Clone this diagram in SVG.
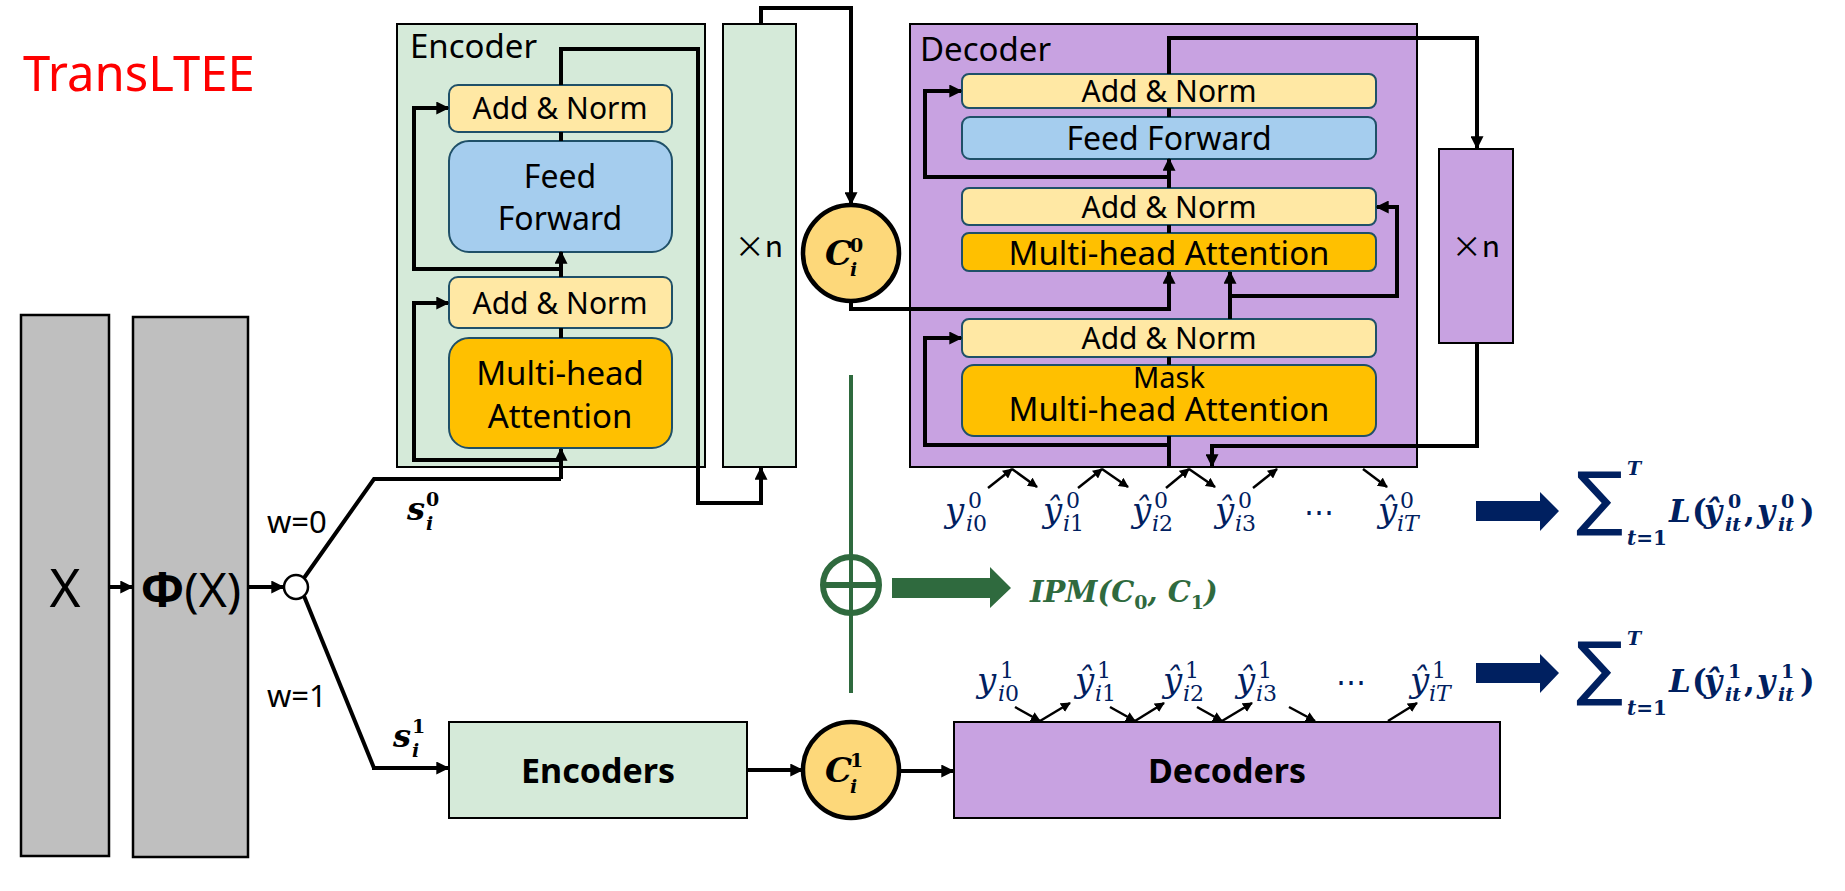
<svg xmlns="http://www.w3.org/2000/svg" width="1845" height="891" viewBox="0 0 1845 891">
<defs>
<style>
.lbl{font-family:"Noto Sans","Liberation Sans",sans-serif;fill:#000}
.an{fill:#ffe8a4;stroke:#1f5068;stroke-width:2}
.ff{fill:#a5cdee;stroke:#1f5068;stroke-width:2}
.mha{fill:#ffc000;stroke:#1f5068;stroke-width:2}
.enc{fill:#d5ead9;stroke:#000;stroke-width:2}
.dec{fill:#c8a2e1;stroke:#000;stroke-width:2}
.gray{fill:#bfbfbf;stroke:#000;stroke-width:2.5}
.cc{fill:#fdd87a;stroke:#000;stroke-width:4.5}
.ln{fill:none;stroke:#000;stroke-width:4}
.lna{fill:none;stroke:#000;stroke-width:4;marker-end:url(#ah)}
.sm{fill:none;stroke:#000;stroke-width:2.5;marker-end:url(#sa)}
.mth{font-family:"DejaVu Serif","Liberation Serif",serif;font-style:italic;fill:#002060}
.mb{font-family:"DejaVu Serif","Liberation Serif",serif;font-style:italic;font-weight:bold}
.up{font-style:normal}
.xn{font-family:"Noto Sans CJK SC","Noto Sans",sans-serif;font-size:30px;fill:#000}
</style>
<marker id="ah" viewBox="0 0 10 10" refX="9" refY="5" markerWidth="13" markerHeight="13" markerUnits="userSpaceOnUse" orient="auto"><path d="M0,0 L10,5 L0,10 z" fill="#000"/></marker>
<marker id="sa" viewBox="0 0 10 10" refX="9" refY="5" markerWidth="10" markerHeight="10" markerUnits="userSpaceOnUse" orient="auto"><path d="M0,0 L10,5 L0,10 z" fill="#000"/></marker>
</defs>
<rect width="1845" height="891" fill="#fff"/>

<text id="title" x="23" y="91" font-family="Noto Sans, Liberation Sans, sans-serif" font-size="49" fill="#ff0000">TransLTEE</text>

<g id="X">
<rect class="gray" x="21" y="315" width="88" height="541"/>
<text class="lbl" x="65" y="607" font-size="53" text-anchor="middle">X</text>
</g>
<g id="PhiX">
<rect class="gray" x="133" y="317" width="115" height="540"/>
<text class="lbl" x="191" y="607" font-size="48" text-anchor="middle"><tspan font-weight="bold">Φ</tspan>(X)</text>
</g>
<g id="split">
<circle cx="296" cy="587" r="12" fill="#fff" stroke="#000" stroke-width="2.5"/>
</g>

<g id="encoder">
<rect class="enc" x="397" y="24" width="308" height="443"/>
<text class="lbl" x="410" y="58" font-size="33">Encoder</text>
<g id="enc-an2">
<rect class="an" x="449" y="85" width="223" height="47" rx="9"/>
<text class="lbl" x="560" y="119" font-size="30" text-anchor="middle">Add &amp; Norm</text>
</g>
<g id="enc-ff">
<rect class="ff" x="449" y="141" width="223" height="111" rx="20"/>
<text class="lbl" x="560" y="188" font-size="32" text-anchor="middle">Feed</text>
<text class="lbl" x="560" y="230" font-size="32" text-anchor="middle">Forward</text>
</g>
<g id="enc-an1">
<rect class="an" x="449" y="277" width="223" height="51" rx="9"/>
<text class="lbl" x="560" y="314" font-size="30" text-anchor="middle">Add &amp; Norm</text>
</g>
<g id="enc-mha">
<rect class="mha" x="449" y="338" width="223" height="110" rx="20"/>
<text class="lbl" x="560" y="385" font-size="33" text-anchor="middle">Multi-head</text>
<text class="lbl" x="560" y="428" font-size="33" text-anchor="middle">Attention</text>
</g>
</g>

<g id="enc-xn">
<rect class="enc" x="723" y="24" width="73" height="443"/>
<text class="xn" x="759" y="257" text-anchor="middle">×n</text>
</g>

<g id="c0">
<circle class="cc" cx="851" cy="253" r="48"/>
<text class="mb" x="825" y="265" font-size="34">C</text>
<text class="mb up" x="850" y="252" font-size="19">0</text>
<text class="mb" x="850" y="276" font-size="19">i</text>
</g>

<g id="decoder">
<rect class="dec" x="910" y="24" width="507" height="443"/>
<text class="lbl" x="920" y="61" font-size="33">Decoder</text>
<g id="dec-an3">
<rect class="an" x="962" y="74" width="414" height="34" rx="7"/>
<text class="lbl" x="1169" y="102" font-size="30" text-anchor="middle">Add &amp; Norm</text>
</g>
<g id="dec-ff">
<rect class="ff" x="962" y="117" width="414" height="42" rx="8"/>
<text class="lbl" x="1169" y="150" font-size="32" text-anchor="middle">Feed Forward</text>
</g>
<g id="dec-an2">
<rect class="an" x="962" y="188" width="414" height="37" rx="7"/>
<text class="lbl" x="1169" y="218" font-size="30" text-anchor="middle">Add &amp; Norm</text>
</g>
<g id="dec-mha">
<rect class="mha" x="962" y="233" width="414" height="38" rx="7"/>
<text class="lbl" x="1169" y="265" font-size="33" text-anchor="middle">Multi-head Attention</text>
</g>
<g id="dec-an1">
<rect class="an" x="962" y="319" width="414" height="38" rx="7"/>
<text class="lbl" x="1169" y="349" font-size="30" text-anchor="middle">Add &amp; Norm</text>
</g>
<g id="dec-mmha">
<rect class="mha" x="962" y="365" width="414" height="71" rx="12"/>
<text class="lbl" x="1169" y="388" font-size="29" text-anchor="middle">Mask</text>
<text class="lbl" x="1169" y="421" font-size="33" text-anchor="middle">Multi-head Attention</text>
</g>
</g>

<g id="dec-xn">
<rect class="dec" x="1439" y="149" width="74" height="194"/>
<text class="xn" x="1476" y="257" text-anchor="middle">×n</text>
</g>

<g id="encoders">
<rect class="enc" x="449" y="722" width="298" height="96" stroke-width="2.5"/>
<text class="lbl" x="598" y="783" font-size="34" font-weight="bold" text-anchor="middle">Encoders</text>
</g>
<g id="c1">
<circle class="cc" cx="851" cy="770" r="48"/>
<text class="mb" x="825" y="782" font-size="34">C</text>
<text class="mb up" x="850" y="767" font-size="19">1</text>
<text class="mb" x="850" y="793" font-size="19">i</text>
</g>
<g id="decoders">
<rect class="dec" x="954" y="722" width="546" height="96" stroke-width="2.5"/>
<text class="lbl" x="1227" y="783" font-size="34" font-weight="bold" text-anchor="middle">Decoders</text>
</g>

<g id="labels">
<text class="lbl" x="267" y="533" font-size="31">w=0</text>
<text class="lbl" x="267" y="707" font-size="31">w=1</text>
<text class="mb" x="407" y="520" font-size="32">s</text>
<text class="mb up" x="426" y="506" font-size="19">0</text>
<text class="mb" x="426" y="530" font-size="19">i</text>
<text class="mb" x="393" y="747" font-size="32">s</text>
<text class="mb up" x="412" y="733" font-size="19">1</text>
<text class="mb" x="412" y="757" font-size="19">i</text>
</g>

<g id="connectors">
<path class="lna" d="M109,587 H132"/>
<path class="lna" d="M248,587 H283"/>
<path class="ln" d="M304,578 L374,479 H561"/>
<path class="lna" d="M561,479 V449"/>
<path class="ln" d="M304,596 L374,768"/>
<path class="lna" d="M372,768 H448"/>
<path class="ln" d="M561,132 V141"/>
<path class="ln" d="M561,328 V338"/>
<path class="lna" d="M561,277 V252"/>
<path class="lna" d="M561,269 H414 V108 H448"/>
<path class="lna" d="M561,460 H414 V303 H448"/>
<path class="lna" d="M561,85 V49 H698 V503 H761 V468"/>
<path class="lna" d="M761,24 V8 H851 V204"/>
<path class="lna" d="M851,301 V309 H1169 V272"/>
<path class="lna" d="M1169,74 V38 H1477 V148"/>
<path class="lna" d="M1477,343 V446 H1212 V466"/>
<path class="ln" d="M1169,108 V117"/>
<path class="lna" d="M1169,188 V159"/>
<path class="lna" d="M1169,177 H925 V91 H961"/>
<path class="ln" d="M1169,225 V233"/>
<path class="lna" d="M1230,319 V272"/>
<path class="lna" d="M1230,296 H1397 V207 H1377"/>
<path class="ln" d="M1169,357 V365"/>
<path class="ln" d="M1169,467 V436"/>
<path class="lna" d="M1169,445 H925 V338 H961"/>
<path class="lna" d="M747,770 H802"/>
<path class="lna" d="M899,771 H953"/>
<path class="sm" d="M988,488 L1012,469"/>
<path class="sm" d="M1012,469 L1037,487"/>
<path class="sm" d="M1078,488 L1102,469"/>
<path class="sm" d="M1102,469 L1128,487"/>
<path class="sm" d="M1166,488 L1189,469"/>
<path class="sm" d="M1189,469 L1215,487"/>
<path class="sm" d="M1253,488 L1277,469"/>
<path class="sm" d="M1363,469 L1387,487"/>
<path class="sm" d="M1015,707 L1040,721"/>
<path class="sm" d="M1040,721 L1070,703"/>
<path class="sm" d="M1110,707 L1135,721"/>
<path class="sm" d="M1135,721 L1164,703"/>
<path class="sm" d="M1197,707 L1222,721"/>
<path class="sm" d="M1222,721 L1252,703"/>
<path class="sm" d="M1289,707 L1315,721"/>
<path class="sm" d="M1388,721 L1417,703"/>
</g>

<g id="ipm">
<line x1="851" y1="375" x2="851" y2="693" stroke="#2f6a3e" stroke-width="4"/>
<circle cx="851" cy="585" r="28" fill="none" stroke="#2f6a3e" stroke-width="6"/>
<line x1="823" y1="585" x2="879" y2="585" stroke="#2f6a3e" stroke-width="6"/>
<polygon points="892,578 990,578 990,567 1011,588 990,608 990,598 892,598" fill="#2f6a3e"/>
<text class="mb" x="1030" y="602" font-size="29" fill="#2f6a3e">IPM(C<tspan font-size="19" dy="7" font-style="normal">0</tspan><tspan dy="-7">, C</tspan><tspan font-size="19" dy="7" font-style="normal">1</tspan><tspan dy="-7">)</tspan></text>
</g>

<g id="y0" class="mth">
<text x="945" y="522" font-size="34">y</text><text x="968" y="508" font-size="22" font-style="normal">0</text><text x="966" y="531" font-size="22">i<tspan font-style="normal">0</tspan></text>
<text x="1043" y="522" font-size="34">ŷ</text><text x="1066" y="508" font-size="22" font-style="normal">0</text><text x="1063" y="531" font-size="22">i<tspan font-style="normal">1</tspan></text>
<text x="1132" y="522" font-size="34">ŷ</text><text x="1154" y="508" font-size="22" font-style="normal">0</text><text x="1152" y="531" font-size="22">i<tspan font-style="normal">2</tspan></text>
<text x="1215" y="522" font-size="34">ŷ</text><text x="1238" y="508" font-size="22" font-style="normal">0</text><text x="1235" y="531" font-size="22">i<tspan font-style="normal">3</tspan></text>
<text x="1304" y="522" font-size="30" font-style="normal">⋯</text>
<text x="1378" y="522" font-size="34">ŷ</text><text x="1400" y="508" font-size="22" font-style="normal">0</text><text x="1397" y="531" font-size="22">iT</text>
</g>
<g id="y1" class="mth">
<text x="977" y="692" font-size="34">y</text><text x="1000" y="678" font-size="22" font-style="normal">1</text><text x="998" y="701" font-size="22">i<tspan font-style="normal">0</tspan></text>
<text x="1075" y="692" font-size="34">ŷ</text><text x="1097" y="678" font-size="22" font-style="normal">1</text><text x="1095" y="701" font-size="22">i<tspan font-style="normal">1</tspan></text>
<text x="1163" y="692" font-size="34">ŷ</text><text x="1185" y="678" font-size="22" font-style="normal">1</text><text x="1183" y="701" font-size="22">i<tspan font-style="normal">2</tspan></text>
<text x="1236" y="692" font-size="34">ŷ</text><text x="1258" y="678" font-size="22" font-style="normal">1</text><text x="1256" y="701" font-size="22">i<tspan font-style="normal">3</tspan></text>
<text x="1336" y="692" font-size="30" font-style="normal">⋯</text>
<text x="1410" y="692" font-size="34">ŷ</text><text x="1432" y="678" font-size="22" font-style="normal">1</text><text x="1429" y="701" font-size="22">iT</text>
</g>

<g id="loss0" fill="#002060">
<polygon points="1476,501 1540,501 1540,492 1559,511 1540,531 1540,521 1476,521"/>
<text x="1576" y="522" font-family="DejaVu Sans, sans-serif" font-size="70">∑</text>
<text class="mb" x="1627" y="475" font-size="19">T</text>
<text class="mb" x="1627" y="545" font-size="20">t<tspan font-style="normal">=1</tspan></text>
<text class="mb" x="1669" y="522" font-size="31">L</text>
<text class="mb up" x="1692" y="522" font-size="31">(</text>
<text class="mb" x="1704" y="522" font-size="31">ŷ</text>
<text class="mb up" x="1728" y="508" font-size="19">0</text>
<text class="mb" x="1725" y="531" font-size="19">it</text>
<text class="mb up" x="1744" y="522" font-size="31">,</text>
<text class="mb" x="1757" y="522" font-size="31">y</text>
<text class="mb up" x="1781" y="508" font-size="19">0</text>
<text class="mb" x="1778" y="531" font-size="19">it</text>
<text class="mb up" x="1800" y="522" font-size="31">)</text>
</g>
<g id="loss1" fill="#002060">
<polygon points="1476,663 1540,663 1540,654 1559,673 1540,693 1540,683 1476,683"/>
<text x="1576" y="692" font-family="DejaVu Sans, sans-serif" font-size="70">∑</text>
<text class="mb" x="1627" y="645" font-size="19">T</text>
<text class="mb" x="1627" y="715" font-size="20">t<tspan font-style="normal">=1</tspan></text>
<text class="mb" x="1669" y="692" font-size="31">L</text>
<text class="mb up" x="1692" y="692" font-size="31">(</text>
<text class="mb" x="1704" y="692" font-size="31">ŷ</text>
<text class="mb up" x="1728" y="678" font-size="19">1</text>
<text class="mb" x="1725" y="701" font-size="19">it</text>
<text class="mb up" x="1744" y="692" font-size="31">,</text>
<text class="mb" x="1757" y="692" font-size="31">y</text>
<text class="mb up" x="1781" y="678" font-size="19">1</text>
<text class="mb" x="1778" y="701" font-size="19">it</text>
<text class="mb up" x="1800" y="692" font-size="31">)</text>
</g>
</svg>
